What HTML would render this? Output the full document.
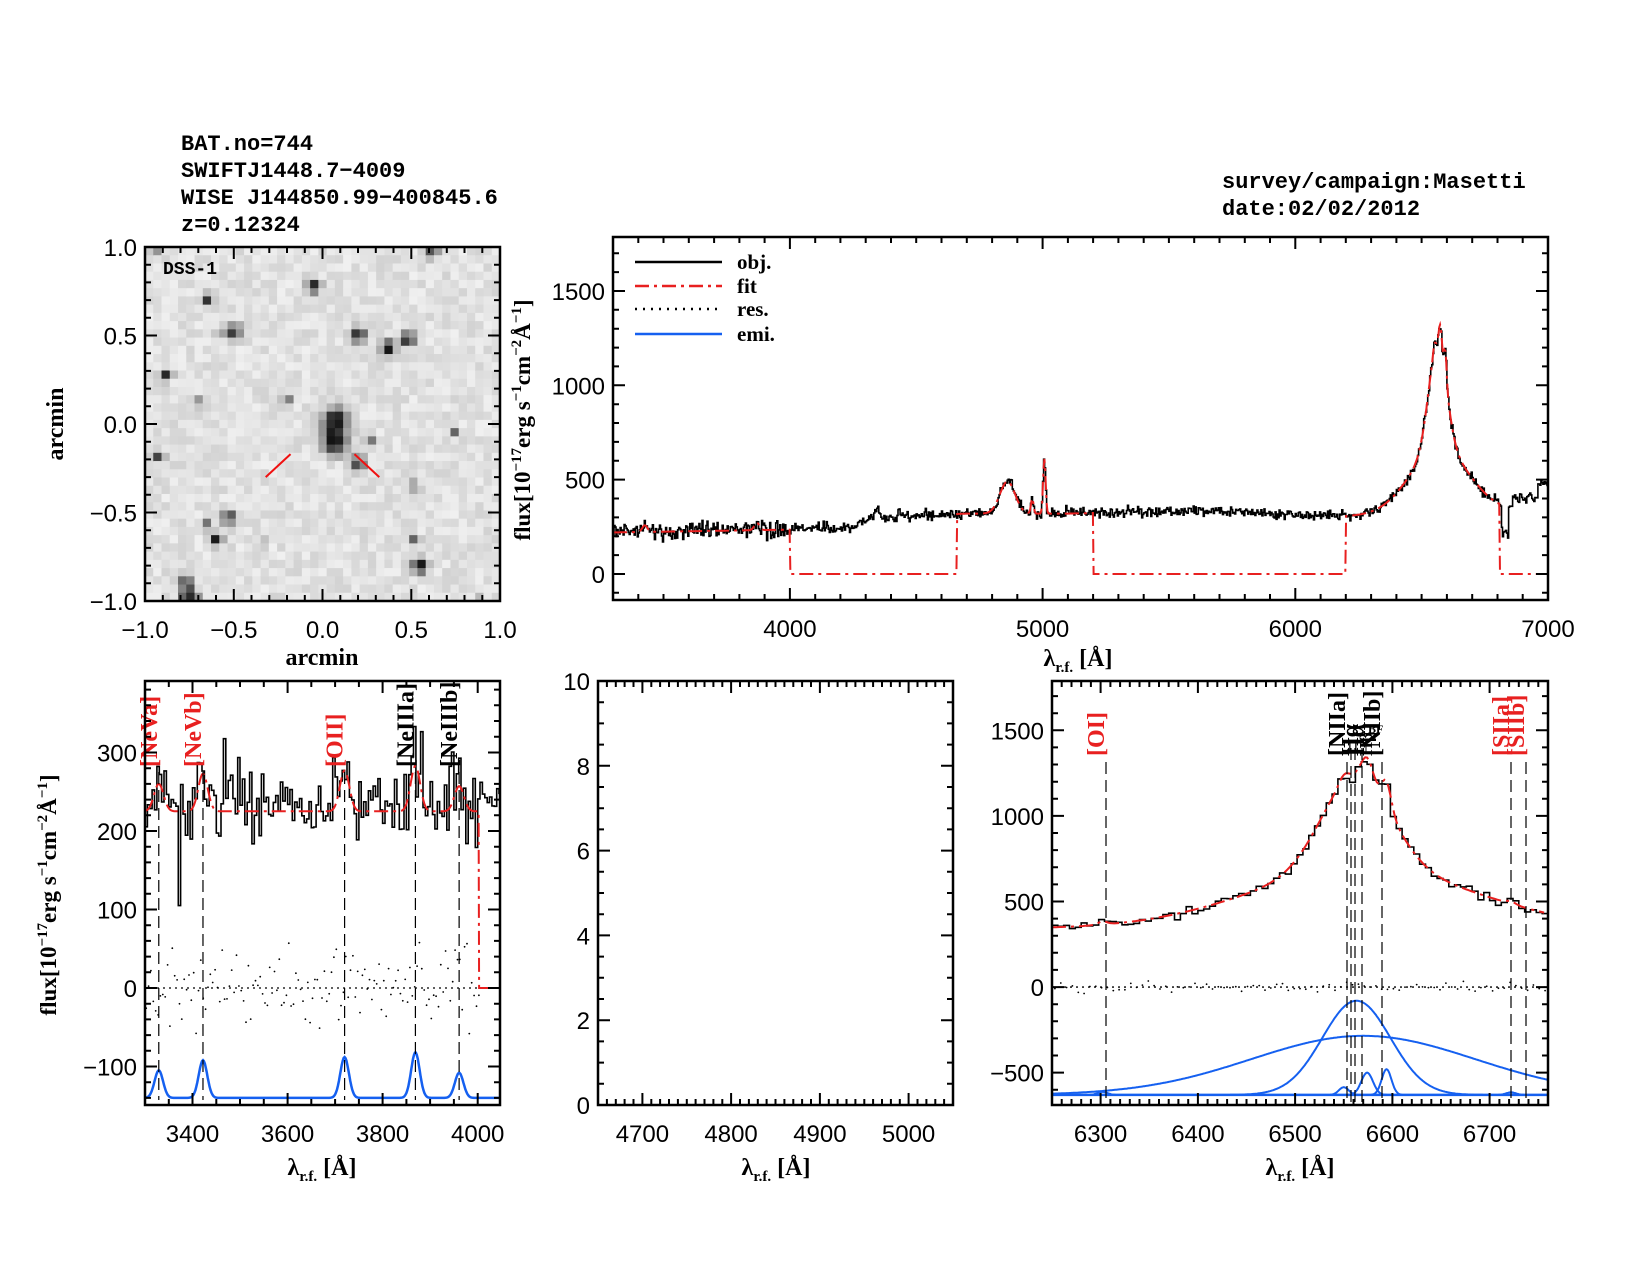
<!DOCTYPE html>
<html><head><meta charset="utf-8"><style>
html,body{margin:0;padding:0;background:#fff;}
svg{display:block;}
.hd{font-family:"Liberation Mono",monospace;font-size:22px;font-weight:bold;fill:#000;}
.tk{font-family:"Liberation Sans",sans-serif;font-size:24px;fill:#000;}
.al{font-family:"Liberation Serif",serif;font-size:24px;font-weight:bold;fill:#000;}
.ll{font-family:"Liberation Serif",serif;font-size:24px;font-weight:bold;}
</style></head><body>
<svg id="s" width="1650" height="1275" viewBox="0 0 1650 1275" xmlns="http://www.w3.org/2000/svg">
<text class="hd" x="181" y="150">BAT.no=744</text>
<text class="hd" x="181" y="177">SWIFTJ1448.7−4009</text>
<text class="hd" x="181" y="204">WISE J144850.99−400845.6</text>
<text class="hd" x="181" y="231">z=0.12324</text>
<text class="hd" x="1222" y="188">survey/campaign:Masetti</text>
<text class="hd" x="1222" y="215">date:02/02/2012</text>
</svg>
<script>
(function(){
function rng(a){return function(){a|=0;a=a+0x6D2B79F5|0;let t=Math.imul(a^a>>>15,1|a);t=t+Math.imul(t^t>>>7,61|t)^t;return((t^t>>>14)>>>0)/4294967296;}}
const R=rng(12345);
function gn(){let u=R()||1e-9,v=R();return Math.sqrt(-2*Math.log(u))*Math.cos(2*Math.PI*v);}
function g(x,m,s){return Math.exp(-0.5*((x-m)/s)*((x-m)/s));}
let o='';
function P(x0,x1,y0,y1,xa,xb,ya,yb){return {x0,x1,y0,y1,xa,xb,ya,yb,X:v=>x0+(v-xa)/(xb-xa)*(x1-x0),Y:v=>y1-(v-ya)/(yb-ya)*(y1-y0)};}
function ticks(p,xmaj,xmin,ymaj,ymin,fx,fy,lblx,lbly){
  let t='';
  for(let k=Math.ceil(p.xa/xmin-1e-6);k*xmin<=p.xb+1e-6;k++){const v=k*xmin;const maj=Math.abs(v/xmaj-Math.round(v/xmaj))<1e-6;const len=maj?12:6;const x=p.X(v).toFixed(1);
    t+=`M${x} ${p.y1}v${-len}M${x} ${p.y0}v${len}`;
    if(maj&&lblx) o+=`<text class="tk" x="${x}" y="${p.y1+37}" text-anchor="middle">${fx(v)}</text>`;}
  for(let k=Math.ceil(p.ya/ymin-1e-6);k*ymin<=p.yb+1e-6;k++){const v=k*ymin;const maj=Math.abs(v/ymaj-Math.round(v/ymaj))<1e-6;const len=maj?12:6;const y=p.Y(v).toFixed(1);
    t+=`M${p.x0} ${y}h${len}M${p.x1} ${y}h${-len}`;
    if(maj&&lbly) o+=`<text class="tk" x="${p.x0-8}" y="${(+y+9).toFixed(1)}" text-anchor="end">${fy(v)}</text>`;}
  o+=`<path d="${t}" stroke="#000" stroke-width="2" fill="none"/>`;
  o+=`<rect x="${p.x0}" y="${p.y0}" width="${p.x1-p.x0}" height="${p.y1-p.y0}" fill="none" stroke="#000" stroke-width="2.5"/>`;
}
const mi=s=>String(s).replace('-','−');
// ---------- image panel ----------
const pi=P(145,500,247,601,-1,1,-1,1);
const stars=[[0.07,0.02,1.3,1],[0.07,-0.1,1.3,1],[0.2,-0.22,0.8,0.8],[-0.05,0.78,0.7,0.9],[0.2,0.5,0.8,0.9],[0.37,0.43,0.8,0.9],[0.48,0.48,0.8,0.9],[-0.5,0.52,0.8,0.85],[-0.58,0.5,0.5,0.5],[-0.65,0.7,0.6,0.7],[-0.88,0.28,0.6,0.8],[-0.75,-0.98,0.9,1],[-0.77,-0.9,0.7,0.9],[-0.6,-0.65,0.7,0.9],[-0.53,-0.53,0.7,0.85],[-0.65,-0.57,0.5,0.6],[0.55,-0.8,0.8,1],[0.62,0.97,0.6,0.85],[-0.92,-0.18,0.6,0.85],[0.27,-0.1,0.5,0.6],[0.75,-0.05,0.5,0.6],[-0.2,0.15,0.5,0.6],[-0.7,0.12,0.5,0.5],[0.52,-0.35,0.5,0.5],[0.52,-0.65,0.5,0.6],[-0.95,0.98,0.5,0.5],[0.68,0.86,0.4,0.4],[-0.32,-0.67,0.4,0.4],[0.88,-1.0,0.4,0.5]];
const N=43,cs=(pi.x1-pi.x0)/N;
let im='';
for(let i=0;i<N;i++)for(let j=0;j<N;j++){
  const a=-1+(i+0.5)*2/N,b=1-(j+0.5)*2/N;
  let d=0;for(const st of stars){d+=st[3]*Math.exp(-((a-st[0])**2+(b-st[1])**2)/(2*(0.036*st[2])**2));}
  d=Math.min(d*1.2,1);
  let v=225+ (R()-0.5)*30 - d*195;
  v=Math.max(20,Math.min(250,Math.round(v)));
  im+=`<rect x="${(pi.x0+i*cs).toFixed(2)}" y="${(pi.y0+j*cs*(pi.y1-pi.y0)/(pi.x1-pi.x0)).toFixed(2)}" width="${(cs+0.6).toFixed(2)}" height="${(cs+0.6).toFixed(2)}" fill="rgb(${v},${v},${v})"/>`;
}
o+=im;
o+=`<line x1="${pi.X(-0.32)}" y1="${pi.Y(-0.3)}" x2="${pi.X(-0.18)}" y2="${pi.Y(-0.17)}" stroke="#f01010" stroke-width="2"/>`;
o+=`<line x1="${pi.X(0.18)}" y1="${pi.Y(-0.17)}" x2="${pi.X(0.32)}" y2="${pi.Y(-0.3)}" stroke="#f01010" stroke-width="2"/>`;
o+=`<text x="163" y="274" style="font-family:'Liberation Mono',monospace;font-size:18px;font-weight:bold">DSS-1</text>`;
ticks(pi,0.5,0.1,0.5,0.1,v=>mi(v.toFixed(1)),v=>mi(v.toFixed(1)),true,true);
o+=`<text class="al" x="322" y="665" text-anchor="middle">arcmin</text>`;
o+=`<text class="al" transform="translate(63,424) rotate(-90)" text-anchor="middle">arcmin</text>`;

// ---------- spectrum model ----------
function cont(l){const pts=[[3300,220],[4000,235],[4250,250],[4350,300],[4700,320],[5100,320],[5600,335],[6200,305],[6800,330],[7000,380]];
  for(let i=0;i<pts.length-1;i++){if(l<=pts[i+1][0]){const t=(l-pts[i][0])/(pts[i+1][0]-pts[i][0]);return pts[i][1]+t*(pts[i+1][1]-pts[i][1]);}}return 380;}
function ha(l){return 345*g(l,6570,115)+550*g(l,6563,35)+45*g(l,6550,5)+130*g(l,6574,6)+150*g(l,6594,5);}
function model(l){return cont(l)+170*g(l,4861,30)+80*g(l,4959,5)+290*g(l,5007,5)+40*g(l,4340,15)+ha(l)+35*g(l,3426,10)+40*g(l,3869,10);}
function obj(l,n){let c=model(l)+n;if(l>6815&&l<6845)c-=150;if(l>6860)c=410+(l>6960?70:0)+n;return c;}
// ---------- top panel ----------
const pt=P(613,1548,237,600,3300,7000,-138,1786);
let d='',w=4;
for(let l=3300;l<7000;l+=w){const v=obj(l+w/2,gn()*(l<4000?22:14));const y=pt.Y(v).toFixed(1);d+=(l==3300?`M${pt.X(l).toFixed(1)} ${y}`:`V${y}`)+`H${pt.X(l+w).toFixed(1)}`;}
o+=`<path d="${d}" fill="none" stroke="#000" stroke-width="1.6"/>`;
d='';
for(let l=3300;l<=7000;l+=3){let v=model(l);if((l>=4000&&l<4660)||(l>=5200&&l<6200)||l>=6810)v=0;d+=(l==3300?'M':'L')+pt.X(l).toFixed(1)+' '+pt.Y(v).toFixed(1);}
o+=`<path d="${d}" fill="none" stroke="#e82020" stroke-width="2" stroke-dasharray="14,5,3,5"/>`;
ticks(pt,1000,100,500,100,v=>v,v=>v,true,true);
const lg=[[262,'#000','','obj.'],[286,'#e82020','14,5,3,5','fit'],[309,'#000','2,6','res.'],[334,'#1560f0','','emi.']];
for(const r of lg){o+=`<line x1="635" y1="${r[0]}" x2="722" y2="${r[0]}" stroke="${r[1]}" stroke-width="2.5" ${r[2]?`stroke-dasharray="${r[2]}"`:''}/><text class="al" x="737" y="${r[0]+7}" style="font-size:21px">${r[3]}</text>`;}
o+=`<text class="al" x="1078" y="666" text-anchor="middle">λ<tspan font-size="15" dy="6">r.f.</tspan><tspan dy="-6"> [Å]</tspan></text>`;
o+=`<text class="al" transform="translate(530,420) rotate(-90)" text-anchor="middle" style="font-size:23px">flux[10<tspan font-size="15" dy="-9">−17</tspan><tspan dy="9">erg s</tspan><tspan font-size="15" dy="-9">−1</tspan><tspan dy="9">cm</tspan><tspan font-size="15" dy="-9">−2</tspan><tspan dy="9">Å</tspan><tspan font-size="15" dy="-9">−1</tspan><tspan dy="9">]</tspan></text>`;

// ---------- bottom-left ----------
const pl=P(145,500,681,1105,3300,4047,-149,391);
const lines=[[3329,35,'[NeVa]','#e82020'],[3422,48,'[NeVb]','#e82020'],[3720,52,'[OII]','#e82020'],[3869,58,'[NeIIIa]','#000'],[3961,32,'[NeIIIb]','#000']];
function blfit(l){let v=225;for(const L of lines)v+=L[1]*g(l,L[0],10);return v;}
d='';let rd='';w=5;
for(let l=3300;l<4047;l+=w){let n=gn()*24;if(R()<0.06)n+=(R()<0.5?-1:1)*60;let v=blfit(l+2.5)+n+5;if(Math.abs(l-3370)<3)v=105;if(l>4005)v=240+gn()*8;
 const y=pl.Y(v).toFixed(1);d+=(l==3300?`M${pl.X(l).toFixed(1)} ${y}`:`V${y}`)+`H${pl.X(Math.min(l+w,4047)).toFixed(1)}`;
 if(l<4005){const r=gn()*25;rd+=`<circle cx="${pl.X(l+2.5).toFixed(1)}" cy="${pl.Y(r).toFixed(1)}" r="0.9"/>`;}}
o+=`<path d="${d}" fill="none" stroke="#000" stroke-width="1.6"/>`;
o+=`<g fill="#000">${rd}</g>`;
o+=`<line x1="${pl.x0}" y1="${pl.Y(0)}" x2="${pl.X(4003)}" y2="${pl.Y(0)}" stroke="#000" stroke-width="1.3" stroke-dasharray="2,4"/>`;
d='';
for(let l=3300;l<=4003;l+=2)d+=(l==3300?'M':'L')+pl.X(l).toFixed(1)+' '+pl.Y(blfit(l)).toFixed(1);
d+=`L${pl.X(4003).toFixed(1)} ${pl.Y(0).toFixed(1)}L${pl.x1} ${pl.Y(0).toFixed(1)}`;
o+=`<path d="${d}" fill="none" stroke="#e82020" stroke-width="2" stroke-dasharray="14,5,3,5"/>`;
d='';
for(let l=3300;l<=4047;l+=2){let v=-140;for(const L of lines)v+=L[1]*g(l,L[0],9);d+=(l==3300?'M':'L')+pl.X(l).toFixed(1)+' '+pl.Y(v).toFixed(1);}
o+=`<path d="${d}" fill="none" stroke="#1560f0" stroke-width="2.5"/>`;
for(const L of lines){const x=pl.X(L[0]);o+=`<line x1="${x}" y1="772" x2="${x}" y2="1100" stroke="#000" stroke-width="1.2" stroke-dasharray="12,6"/>`;
 o+=`<text class="ll" transform="translate(${(x-2).toFixed(1)},767) rotate(-90)" fill="${L[3]}">${L[2]}</text>`;}
ticks(pl,200,50,100,20,v=>v,v=>mi(v),true,true);
o+=`<text class="al" x="322" y="1175" text-anchor="middle">λ<tspan font-size="15" dy="6">r.f.</tspan><tspan dy="-6"> [Å]</tspan></text>`;
o+=`<text class="al" transform="translate(56,895) rotate(-90)" text-anchor="middle" style="font-size:23px">flux[10<tspan font-size="15" dy="-9">−17</tspan><tspan dy="9">erg s</tspan><tspan font-size="15" dy="-9">−1</tspan><tspan dy="9">cm</tspan><tspan font-size="15" dy="-9">−2</tspan><tspan dy="9">Å</tspan><tspan font-size="15" dy="-9">−1</tspan><tspan dy="9">]</tspan></text>`;

// ---------- bottom-middle ----------
const pm=P(598,953,681,1105,4650,5050,0,10);
ticks(pm,100,10,2,0.5,v=>v,v=>v,true,true);
o+=`<text class="al" x="776" y="1175" text-anchor="middle">λ<tspan font-size="15" dy="6">r.f.</tspan><tspan dy="-6"> [Å]</tspan></text>`;

// ---------- bottom-right ----------
const pr=P(1052,1548,681,1105,6250,6760,-689,1788);
function rcont(l){return 342;}
function remi(l){return 18*g(l,6302,5)+15*g(l,6722,5)+ha(l);}
d='';rd='';w=6;
for(let l=6250;l<6757;l+=w){const v=rcont(l+3)+remi(l+3)+gn()*14;const y=pr.Y(v).toFixed(1);d+=(l==6250?`M${pr.X(l).toFixed(1)} ${y}`:`V${y}`)+`H${pr.X(l+w).toFixed(1)}`;
 rd+=`<circle cx="${pr.X(l+3).toFixed(1)}" cy="${pr.Y(gn()*15).toFixed(1)}" r="0.9"/>`;}
o+=`<path d="${d}" fill="none" stroke="#000" stroke-width="1.6"/>`;
o+=`<g fill="#000">${rd}</g>`;
o+=`<line x1="${pr.x0}" y1="${pr.Y(0)}" x2="${pr.X(6757)}" y2="${pr.Y(0)}" stroke="#000" stroke-width="1.3" stroke-dasharray="2,4"/>`;
d='';for(let l=6250;l<=6757;l+=2)d+=(l==6250?'M':'L')+pr.X(l).toFixed(1)+' '+pr.Y(rcont(l)+remi(l)).toFixed(1);
o+=`<path d="${d}" fill="none" stroke="#e82020" stroke-width="2" stroke-dasharray="14,5,3,5"/>`;
const comps=[[345,6570,115],[550,6563,35],[45,6550,5],[130,6574,6],[150,6594,5],[18,6302,5],[15,6722,5]];
const base=-630;
o+=`<line x1="${pr.x0}" y1="${pr.Y(base)}" x2="${pr.x1}" y2="${pr.Y(base)}" stroke="#1560f0" stroke-width="2.5"/>`;
for(const c of comps){d='';let st=true;for(let l=6250;l<=6760;l+=1){const v=c[0]*g(l,c[1],c[2]);if(v<0.5&&Math.abs(l-c[1])>c[2])continue;d+=(st?'M':'L')+pr.X(l).toFixed(1)+' '+pr.Y(base+v).toFixed(1);st=false;}
 o+=`<path d="${d}" fill="none" stroke="#1560f0" stroke-width="2"/>`;}
const rl=[[1106,'[OI]','#e82020',756],[1347,'[NIIa]','#000',756],[1351,'','#000',0],[1355,'','#000',0],[1362,'','#000',0],[1382,'[NIIb]','#000',756],[1511,'[SIIa]','#e82020',756],[1526,'[SIIb]','#e82020',756]];
for(const r of rl){o+=`<line x1="${r[0]}" y1="${r[1]?762:748}" x2="${r[0]}" y2="1105" stroke="#000" stroke-width="1.2" stroke-dasharray="12,6"/>`;
 if(r[1])o+=`<text class="ll" transform="translate(${r[0]-2},${r[3]}) rotate(-90)" fill="${r[2]}">${r[1]}</text>`;}
o+=`<text class="ll" transform="translate(1358,756) rotate(-90)">Hα</text><text class="ll" transform="translate(1364,756) rotate(-90)">Hα</text><text class="ll" transform="translate(1372,756) rotate(-90)" style="font-size:18px">Hβ</text>`;
o+=`<text class="ll" x="1368" y="733" style="font-size:12px;font-weight:bold">BF</text>`;
ticks(pr,100,10,500,100,v=>v,v=>mi(v),true,true);
o+=`<text class="al" x="1300" y="1175" text-anchor="middle">λ<tspan font-size="15" dy="6">r.f.</tspan><tspan dy="-6"> [Å]</tspan></text>`;

document.getElementById('s').insertAdjacentHTML('beforeend',o);
})();
</script>
</body></html>
